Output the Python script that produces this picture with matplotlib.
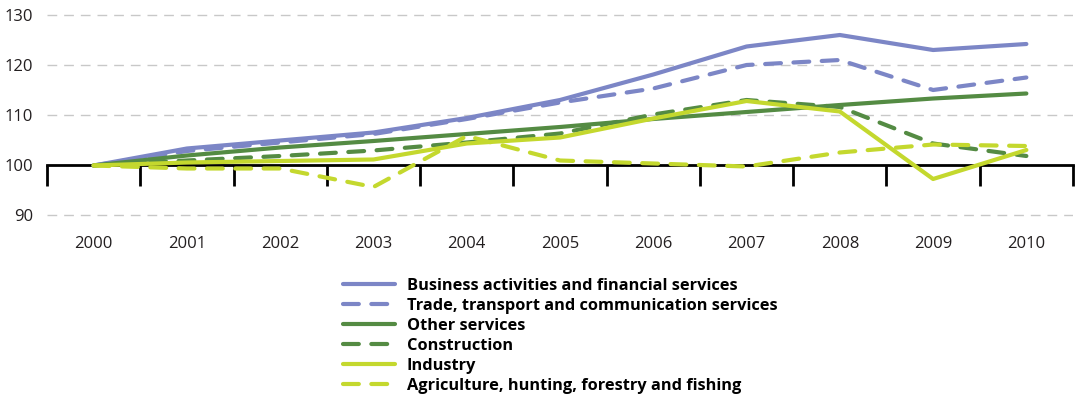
import numpy as np
import matplotlib.pyplot as plt
from matplotlib.ticker import FixedLocator, NullFormatter, FixedFormatter

plt.rcParams['font.family'] = ['Open Sans', 'DejaVu Sans']

years = ['2000', '2001', '2002', '2003', '2004', '2005',
         '2006', '2007', '2008', '2009', '2010']
business = [100, 103.4, 105.0, 106.6, 109.5, 113.1, 118.2, 123.8, 126.1, 123.1, 124.3]
trade = [100, 102.9, 104.6, 106.3, 109.3, 112.6, 115.4, 120.1, 121.1, 115.1, 117.6]
other = [100, 102.0, 103.6, 104.9, 106.3, 107.7, 109.3, 110.7, 112.1, 113.4, 114.4]
construction = [100, 101.0, 101.9, 103.0, 104.6, 106.4, 110.2, 113.1, 111.7, 104.4, 101.9]
industry = [100, 100.6, 100.9, 101.2, 104.4, 105.6, 109.4, 112.9, 110.8, 97.3, 103.1]
agriculture = [100, 99.4, 99.4, 95.7, 105.9, 101.0, 100.4, 99.8, 102.6, 104.2, 103.9]

series = [
    ('Business activities and financial services', business, '#7c86c6', '-'),
    ('Trade, transport and communication services', trade, '#7c86c6', '--'),
    ('Other services', other, '#548b43', '-'),
    ('Construction', construction, '#548b43', '--'),
    ('Industry', industry, '#c4d82e', '-'),
    ('Agriculture, hunting, forestry and fishing', agriculture, '#c4d82e', '--'),
]

fig = plt.figure(figsize=(10.81, 4.0), dpi=100)
ax = fig.add_axes([0.0435, 0.42375, 0.9491, 0.55])

x = np.arange(len(years))
for name, vals, col, ls in series:
    if ls == '--':
        ax.plot(x, vals, color=col, lw=3, linestyle=(0, (3.8, 3.0)),
                dash_capstyle='round', label=name)
    else:
        ax.plot(x, vals, color=col, lw=3, solid_capstyle='round', label=name)

ax.set_xlim(-0.5, len(years) - 0.5)
ax.set_ylim(87, 131)

# horizontal grid
ax.set_yticks([90, 100, 110, 120, 130])
ax.yaxis.grid(True, color='#c8c8c8', lw=1, linestyle=(0, (7, 5)))
ax.set_axisbelow(True)
ax.tick_params(axis='y', length=0, pad=10, labelsize=12, labelcolor='#231f20')

# x axis drawn at 100, ticks between categories, labels below the plot
for s in ['top', 'right', 'left']:
    ax.spines[s].set_visible(False)
ax.spines['bottom'].set_position(('data', 100))
ax.spines['bottom'].set_linewidth(2)
ax.spines['bottom'].set_zorder(1)
ax.xaxis.set_major_locator(FixedLocator(np.arange(-0.5, len(years), 1.0)))
ax.xaxis.set_major_formatter(NullFormatter())
ax.xaxis.set_minor_locator(FixedLocator(x))
ax.xaxis.set_minor_formatter(FixedFormatter(years))
ax.tick_params(axis='x', which='major', length=15, width=2, direction='out')
ax.tick_params(axis='x', which='minor', length=0, pad=51, labelsize=12,
               labelcolor='#231f20')

leg = fig.legend(loc='upper left', bbox_to_anchor=(0.317, 0.306), frameon=False,
                 handlelength=3.2, handletextpad=0.7, labelspacing=0.25,
                 borderpad=0, borderaxespad=0, prop={'weight': 'bold', 'size': 11.8})

fig.savefig('out.png', dpi=100)
